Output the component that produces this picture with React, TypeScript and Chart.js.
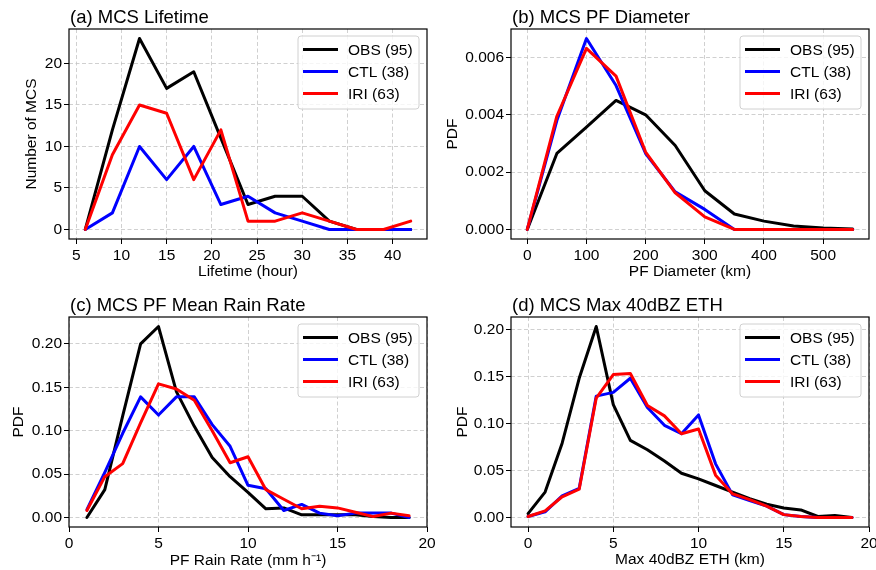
import React, { useEffect, useRef } from "react";
import { Chart, registerables } from "chart.js";

Chart.register(...registerables);

const FONT = '"Liberation Sans", Arial, Helvetica, sans-serif';

// ---------- data ----------
const seriesNames = ["OBS (95)", "CTL (38)", "IRI (63)"];
const seriesColors = ["#000000", "#0000ff", "#ff0000"];

// (a) MCS Lifetime
const lifetimeX = [6, 9, 12, 15, 18, 21, 24, 27, 30, 33, 36, 39, 42];
const lifetimeOBS = [0, 12, 23, 17, 19, 11, 3, 4, 4, 1, 0, 0, 0];
const lifetimeCTL = [0, 2, 10, 6, 10, 3, 4, 2, 1, 0, 0, 0, 0];
const lifetimeIRI = [0, 9, 15, 14, 6, 12, 1, 1, 2, 1, 0, 0, 1];
const lifetimeXTicks = [5, 10, 15, 20, 25, 30, 35, 40];
const lifetimeYTicks = [0, 5, 10, 15, 20];

// (b) MCS PF Diameter
const diamX = [0, 50, 100, 150, 200, 250, 300, 350, 400, 450, 500, 550];
const diamOBS = [0, 0.00265, 0.00357, 0.0045, 0.004, 0.00293, 0.00135, 0.00054, 0.00029, 0.00012, 0.00005, 0.00002];
const diamCTL = [0, 0.0038, 0.00666, 0.00502, 0.00265, 0.00131, 0.0007, 0, 0, 0, 0, 0];
const diamIRI = [0, 0.00395, 0.00632, 0.00535, 0.0027, 0.00128, 0.00044, 0, 0, 0, 0, 0];
const diamXTicks = [0, 100, 200, 300, 400, 500];
const diamYTicks = [0, 0.002, 0.004, 0.006];

// (c) MCS PF Mean Rain Rate
const rainX = [1, 2, 3, 4, 5, 6, 7, 8, 9, 10, 11, 12, 13, 14, 15, 16, 17, 18, 19];
const rainOBS = [0, 0.032, 0.117, 0.2, 0.22, 0.145, 0.105, 0.069, 0.047, 0.029, 0.01, 0.011, 0.003, 0.003, 0.003, 0.003, 0.001, 0, 0];
const rainCTL = [0.009, 0.052, 0.097, 0.139, 0.118, 0.139, 0.139, 0.107, 0.082, 0.037, 0.033, 0.008, 0.015, 0.005, 0.002, 0.005, 0.005, 0.005, 0];
const rainIRI = [0.008, 0.047, 0.062, 0.109, 0.154, 0.148, 0.135, 0.1, 0.063, 0.07, 0.032, 0.021, 0.01, 0.013, 0.011, 0.006, 0.001, 0.005, 0.002];
const rainXTicks = [0, 5, 10, 15, 20];
const rainYTicks = [0, 0.05, 0.1, 0.15, 0.2];

// (d) MCS Max 40dBZ ETH
const ethX = [0, 1, 2, 3, 4, 5, 6, 7, 8, 9, 10, 11, 12, 13, 14, 15, 16, 17, 18, 19];
const ethOBS = [0.004, 0.027, 0.079, 0.148, 0.203, 0.12, 0.082, 0.072, 0.06, 0.047, 0.041, 0.034, 0.027, 0.02, 0.014, 0.01, 0.008, 0.001, 0.002, 0];
const ethCTL = [0.001, 0.006, 0.023, 0.031, 0.129, 0.133, 0.148, 0.117, 0.098, 0.089, 0.109, 0.057, 0.024, 0.018, 0.012, 0.003, 0.001, 0, 0, 0];
const ethIRI = [0.001, 0.007, 0.022, 0.03, 0.127, 0.152, 0.153, 0.119, 0.108, 0.089, 0.094, 0.045, 0.025, 0.019, 0.012, 0.003, 0.001, 0, 0, 0];
const ethXTicks = [0, 5, 10, 15, 20];
const ethYTicks = [0, 0.05, 0.1, 0.15, 0.2];

// ---------- panel layout ----------
type Spec = {
  title: string;
  xLabel: string;
  yLabel: string;
  xs: number[];
  series: number[][];
  xTicks: number[];
  yTicks: number[];
  xMin: number;
  xMax: number;
  yMin: number;
  yMax: number;
  yDecimals: number;
  left: number;
  top: number;
  w: number;
  h: number;
  ca: { l: number; t: number; r: number; b: number };
  padLeft: number;
  xTitlePad: number;
};

const TICK_SIZE = 15.5;
const TITLE_SIZE = 18.5;

const panels: Spec[] = [
  {
    title: "(a) MCS Lifetime",
    xLabel: "Lifetime (hour)",
    yLabel: "Number of MCS",
    xs: lifetimeX,
    series: [lifetimeOBS, lifetimeCTL, lifetimeIRI],
    xTicks: lifetimeXTicks,
    yTicks: lifetimeYTicks,
    xMin: 4.2,
    xMax: 43.8,
    yMin: -1.15,
    yMax: 24.15,
    yDecimals: 0,
    left: 0,
    top: 0,
    w: 438,
    h: 285,
    ca: { l: 69, t: 29, r: 427, b: 239 },
    padLeft: 22.7,
    xTitlePad: 4,
  },
  {
    title: "(b) MCS PF Diameter",
    xLabel: "PF Diameter (km)",
    yLabel: "PDF",
    xs: diamX,
    series: [diamOBS, diamCTL, diamIRI],
    xTicks: diamXTicks,
    yTicks: diamYTicks,
    xMin: -27.5,
    xMax: 577.5,
    yMin: -0.000333,
    yMax: 0.006993,
    yDecimals: 3,
    left: 438,
    top: 0,
    w: 438,
    h: 285,
    ca: { l: 73, t: 29, r: 431, b: 239 },
    padLeft: 5.7,
    xTitlePad: 4,
  },
  {
    title: "(c) MCS PF Mean Rain Rate",
    xLabel: "PF Rain Rate (mm h\u207B\u00B9)",
    yLabel: "PDF",
    xs: rainX,
    series: [rainOBS, rainCTL, rainIRI],
    xTicks: rainXTicks,
    yTicks: rainYTicks,
    xMin: 0,
    xMax: 20,
    yMin: -0.011,
    yMax: 0.231,
    yDecimals: 2,
    left: 0,
    top: 285,
    w: 438,
    h: 285,
    ca: { l: 69, t: 32, r: 427, b: 242 },
    padLeft: 9.7,
    xTitlePad: 0,
  },
  {
    title: "(d) MCS Max 40dBZ ETH",
    xLabel: "Max 40dBZ ETH (km)",
    yLabel: "PDF",
    xs: ethX,
    series: [ethOBS, ethCTL, ethIRI],
    xTicks: ethXTicks,
    yTicks: ethYTicks,
    xMin: -1,
    xMax: 20,
    yMin: -0.01015,
    yMax: 0.21315,
    yDecimals: 2,
    left: 438,
    top: 285,
    w: 438,
    h: 285,
    ca: { l: 73, t: 32, r: 431, b: 242 },
    padLeft: 15.2,
    xTitlePad: 0.7,
  },
];

function makeDecor(spec: Spec) {
  return {
    id: "decor",
    afterDatasetsDraw(chart: any) {
      const { ctx, chartArea } = chart;
      const { left, top, right, bottom } = chartArea;
      ctx.save();
      // frame
      ctx.strokeStyle = "#000";
      ctx.lineWidth = 1.2;
      ctx.strokeRect(left, top, right - left, bottom - top);
      // title
      ctx.fillStyle = "#000";
      ctx.font = `${TITLE_SIZE}px ${FONT}`;
      ctx.textAlign = "left";
      ctx.textBaseline = "alphabetic";
      ctx.fillText(spec.title, left + 1, top - 6);
      // legend
      const bw = 121;
      const bh = 73;
      const bx = right - 8 - bw;
      const by = top + 7;
      const r = 3;
      ctx.beginPath();
      ctx.moveTo(bx + r, by);
      ctx.lineTo(bx + bw - r, by);
      ctx.arcTo(bx + bw, by, bx + bw, by + r, r);
      ctx.lineTo(bx + bw, by + bh - r);
      ctx.arcTo(bx + bw, by + bh, bx + bw - r, by + bh, r);
      ctx.lineTo(bx + r, by + bh);
      ctx.arcTo(bx, by + bh, bx, by + bh - r, r);
      ctx.lineTo(bx, by + r);
      ctx.arcTo(bx, by, bx + r, by, r);
      ctx.closePath();
      ctx.fillStyle = "rgba(255,255,255,0.8)";
      ctx.fill();
      ctx.strokeStyle = "#d0d0d0";
      ctx.lineWidth = 1;
      ctx.stroke();
      ctx.font = `${TICK_SIZE}px ${FONT}`;
      ctx.textBaseline = "middle";
      seriesNames.forEach((name, i) => {
        const y = by + 13.5 + i * 22;
        ctx.beginPath();
        ctx.moveTo(bx + 5, y);
        ctx.lineTo(bx + 40, y);
        ctx.strokeStyle = seriesColors[i];
        ctx.lineWidth = 3;
        ctx.lineCap = "butt";
        ctx.stroke();
        ctx.fillStyle = "#000";
        ctx.fillText(name, bx + 50, y + 1);
      });
      ctx.restore();
    },
  };
}

function makeConfig(spec: Spec): any {
  const { ca, w, h } = spec;
  return {
    type: "line",
    data: {
      datasets: spec.series.map((vals, i) => ({
        label: seriesNames[i],
        data: spec.xs.map((x, j) => ({ x, y: vals[j] })),
        borderColor: seriesColors[i],
        backgroundColor: seriesColors[i],
        borderWidth: 3,
        pointRadius: 0,
        tension: 0,
        fill: false,
        order: 3 - i,
        borderJoinStyle: "round",
        borderCapStyle: "round",
      })),
    },
    options: {
      responsive: false,
      animation: false,
      devicePixelRatio: 1,
      events: [],
      layout: {
        padding: { left: spec.padLeft, top: ca.t, right: w - ca.r, bottom: 0 },
      },
      plugins: {
        legend: { display: false },
        tooltip: { enabled: false },
        title: { display: false },
      },
      scales: {
        x: {
          type: "linear",
          min: spec.xMin,
          max: spec.xMax,
          afterBuildTicks: (s: any) => {
            s.ticks = spec.xTicks.map((v) => ({ value: v }));
          },
          afterFit: (s: any) => {
            s.height = h - ca.b;
            s.paddingLeft = 0;
            s.paddingRight = 0;
          },
          ticks: {
            autoSkip: false,
            maxRotation: 0,
            minRotation: 0,
            padding: 2,
            color: "#000",
            font: { family: FONT, size: TICK_SIZE },
            callback: (v: any) => String(v),
          },
          grid: {
            color: "#c4c4c4",
            lineWidth: 0.8,
            drawTicks: true,
            tickLength: 5,
            tickColor: "#000",
            tickWidth: 1,
            tickBorderDash: [],
          },
          border: { display: false, dash: [4, 2.5] },
          title: {
            display: true,
            text: spec.xLabel,
            color: "#000",
            font: { family: FONT, size: TICK_SIZE },
            padding: { top: 0, bottom: spec.xTitlePad },
          },
        },
        y: {
          type: "linear",
          min: spec.yMin,
          max: spec.yMax,
          afterBuildTicks: (s: any) => {
            s.ticks = spec.yTicks.map((v) => ({ value: v }));
          },
          afterFit: (s: any) => {
            s.width = ca.l - spec.padLeft;
            s.paddingTop = 0;
            s.paddingBottom = 0;
          },
          ticks: {
            autoSkip: false,
            padding: 2,
            color: "#000",
            font: { family: FONT, size: TICK_SIZE },
            callback: (v: any) => Number(v).toFixed(spec.yDecimals),
          },
          grid: {
            color: "#c4c4c4",
            lineWidth: 0.8,
            drawTicks: true,
            tickLength: 5,
            tickColor: "#000",
            tickWidth: 1,
            tickBorderDash: [],
          },
          border: { display: false, dash: [4, 2.5] },
          title: {
            display: true,
            text: spec.yLabel,
            color: "#000",
            font: { family: FONT, size: TICK_SIZE },
            padding: { top: 0, bottom: 0 },
          },
        },
      },
    },
    plugins: [makeDecor(spec)],
  };
}

function Panel({ spec }: { spec: Spec }) {
  const ref = useRef<HTMLCanvasElement>(null);
  useEffect(() => {
    const chart = new Chart(ref.current as HTMLCanvasElement, makeConfig(spec));
    return () => chart.destroy();
  }, [spec]);
  return (
    <canvas
      ref={ref}
      width={spec.w}
      height={spec.h}
      style={{
        position: "absolute",
        left: spec.left,
        top: spec.top,
        width: spec.w,
        height: spec.h,
      }}
    />
  );
}

export default function App() {
  return (
    <div
      style={{
        position: "absolute",
        left: 0,
        top: 0,
        width: 876,
        height: 570,
        background: "#fff",
        overflow: "hidden",
      }}
    >
      {panels.map((p, i) => (
        <Panel key={i} spec={p} />
      ))}
    </div>
  );
}
